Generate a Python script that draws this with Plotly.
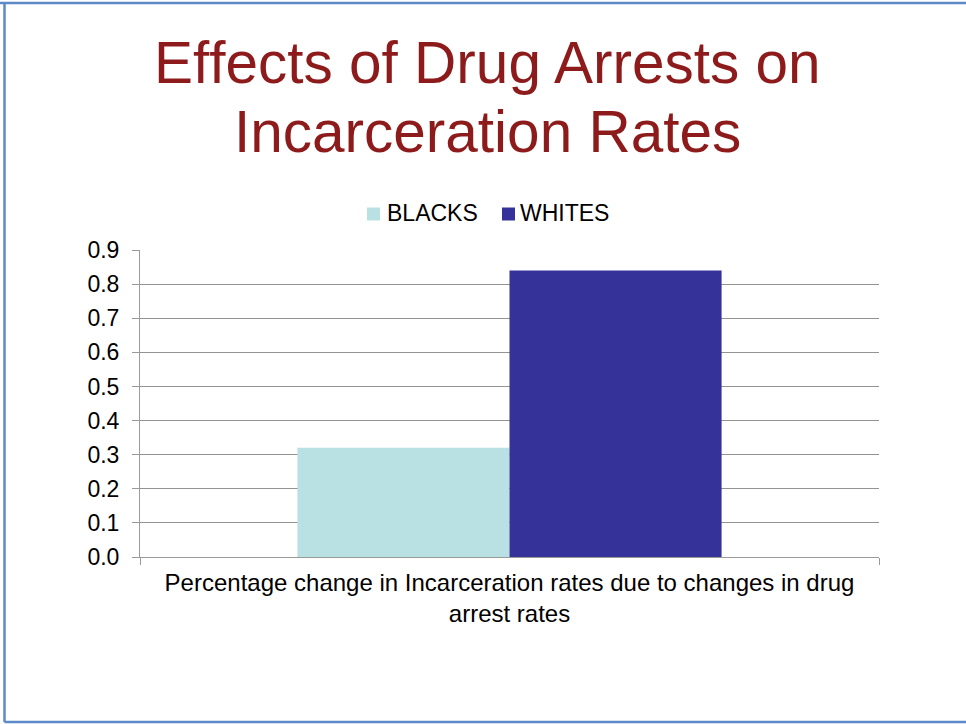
import plotly.graph_objects as go

# Chart data
category = ["Percentage change in Incarceration rates due to changes in drug<br>arrest rates"]
series_names = ["BLACKS", "WHITES"]
series_values = [[0.32], [0.84]]
series_colors = ["#B9E0E2", "#353399"]
y_ticks = [0.0, 0.1, 0.2, 0.3, 0.4, 0.5, 0.6, 0.7, 0.8, 0.9]
title_lines = ["Ef\u200cfects of Drug Arrests on", "Incarceration Rates"]

W, H = 966, 724
ML, MR, MT, MB = 140, 87, 250, 167
PW, PH = W - ML - MR, H - MT - MB


def px_x(x):
    return (x - ML) / PW


def px_y(y):
    return (H - MB - y) / PH


fig = go.Figure()
for name, vals, col in zip(series_names, series_values, series_colors):
    fig.add_trace(go.Bar(name=name, x=category, y=vals, marker=dict(color=col, line=dict(width=0)),
                         showlegend=False))

font_family = "Liberation Sans, Arial, sans-serif"

fig.update_layout(
    width=W, height=H,
    margin=dict(l=ML, r=MR, t=MT, b=MB),
    paper_bgcolor="white", plot_bgcolor="white",
    barmode="group", bargap=0.426, bargroupgap=0,
    font=dict(family=font_family, color="#000000", size=20),
    showlegend=False,
)

# Title, two lines
for line, yc in zip(title_lines, [63, 131]):
    fig.add_annotation(text=line, xref="paper", yref="paper", x=px_x(487), y=px_y(yc),
                       xanchor="center", yanchor="middle", showarrow=False,
                       font=dict(size=58.5, color="#8E1B1B", family=font_family))

# Legend: swatch + label for each series
legend_pos = [(367, 385), (502, 518)]
for (sx, tx), name, col in zip(legend_pos, series_names, series_colors):
    fig.add_shape(type="rect", xref="paper", yref="paper",
                  x0=px_x(sx), x1=px_x(sx + 13), y0=px_y(220.5), y1=px_y(207.5),
                  fillcolor=col, line=dict(width=0))
    fig.add_annotation(text=name, xref="paper", yref="paper", x=px_x(tx), y=px_y(213),
                       xanchor="left", yanchor="middle", showarrow=False,
                       font=dict(size=23, color="#000000", family=font_family))

fig.update_yaxes(range=[0, 0.9], tickvals=y_ticks, ticktext=[f"{v:.1f}" for v in y_ticks],
                 showgrid=True, gridcolor="#939393", gridwidth=1,
                 showline=True, linecolor="#9A9A9A", linewidth=1,
                 ticks="outside", ticklen=7, tickcolor="#9A9A9A",
                 tickfont=dict(size=23), zeroline=False, ticklabelstandoff=8)
fig.update_xaxes(showline=True, linecolor="#9A9A9A", linewidth=1,
                 ticks="outside", tickson="boundaries", ticklen=7, tickcolor="#9A9A9A",
                 tickfont=dict(size=24), showgrid=False, ticklabelstandoff=4)

# Slide frame: blue rule on top, left and bottom edges
frame_col = "#5B8AC6"
for x0, y0, x1, y1 in [(0, 3, W + 5, 3), (4.5, 3, 4.5, 722), (4.5, 722, W + 5, 722)]:
    fig.add_shape(type="line", xref="paper", yref="paper",
                  x0=px_x(x0), y0=px_y(y0), x1=px_x(x1), y1=px_y(y1),
                  line=dict(color=frame_col, width=2.5), layer="above")

fig.write_html("out.html")
